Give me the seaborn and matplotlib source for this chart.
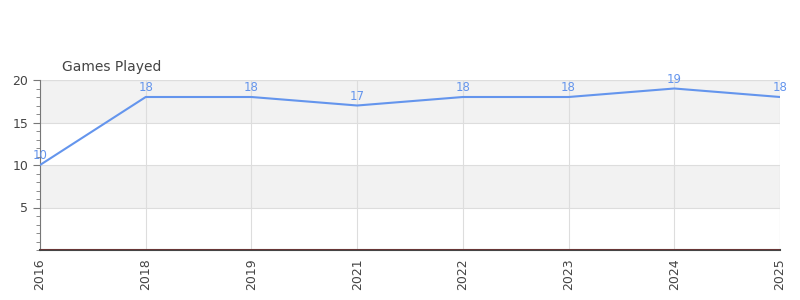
import matplotlib
matplotlib.use("Agg")
import matplotlib.pyplot as plt
from matplotlib.ticker import MultipleLocator, FixedLocator
import seaborn as sns
import pandas as pd

years = ["2016", "2018", "2019", "2021", "2022", "2023", "2024", "2025"]
games = [10, 18, 18, 17, 18, 18, 19, 18]
title = "Games Played"
y_ticks = [5, 10, 15, 20]

sns.set_style("white")
plt.rcParams['font.family'] = ['DejaVu Sans']

df = pd.DataFrame({"year": years, "games": games})
df["pos"] = range(len(years))

fig = plt.figure(figsize=(8, 3), dpi=100)
ax = fig.add_axes([0.05, 1 - 250 / 300, 0.925, 170 / 300])

# alternating bands
for lo, hi, c in [(0, 5, "white"), (5, 10, "#f2f2f2"), (10, 15, "white"), (15, 20, "#f2f2f2")]:
    ax.axhspan(lo, hi, color=c, zorder=0, lw=0)

line_color = "#6495ED"
sns.lineplot(data=df, x="pos", y="games", ax=ax, color=line_color, lw=1.5, zorder=3)
for x, y in zip(df["pos"], df["games"]):
    ax.annotate(str(y), (x, y), xytext=(0, 2), textcoords="offset points",
                ha="center", va="bottom", color=line_color, fontsize=8.5, zorder=4)

ax.set_xlim(0, len(years) - 1)
ax.set_ylim(0, 20)
ax.set_xticks(df["pos"])
ax.set_xticklabels(years, rotation=90, fontsize=9, color="#444444")
ax.yaxis.set_major_locator(FixedLocator(y_ticks))
ax.yaxis.set_minor_locator(MultipleLocator(1))
ax.tick_params(axis="y", which="major", length=5, color="#777777", labelsize=9, labelcolor="#444444", left=True)
ax.tick_params(axis="y", which="minor", length=3, color="#777777", left=True)
ax.tick_params(axis="x", length=0, pad=6)

ax.grid(True, axis="both", color="#dddddd", lw=0.8, zorder=1)
ax.set_axisbelow(True)
ax.set_xlabel("")
ax.set_ylabel("")

for s in ["top", "right"]:
    ax.spines[s].set_visible(False)
ax.spines["left"].set_color("#777777")
ax.spines["bottom"].set_color("#444444")
ax.spines["bottom"].set_linewidth(1.5)
ax.axhline(0, color="red", lw=1, zorder=5)
ax.plot([len(years) - 1, len(years) - 1], [0, 20], color="#dddddd", lw=0.8, zorder=1)
ax.plot([0, len(years) - 1], [20, 20], color="#dddddd", lw=0.8, zorder=1)

fig.text(62 / 800, 1 - 67 / 300, title, fontsize=10, color="#444444", ha="left", va="center")

fig.savefig("out.png", dpi=100)
